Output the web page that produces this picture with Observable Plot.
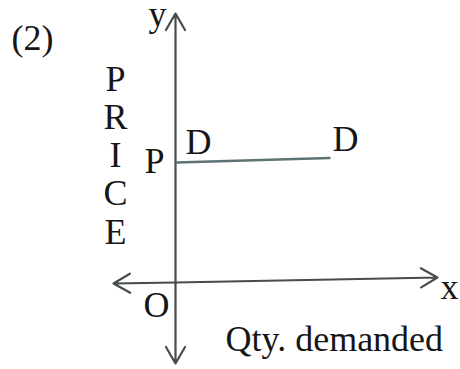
<!DOCTYPE html>
<html>
<head>
<meta charset="utf-8">
<script src="https://cdn.jsdelivr.net/npm/d3@7"></script>
<script src="https://cdn.jsdelivr.net/npm/@observablehq/plot@0.6"></script>
<style>
  html, body { margin: 0; padding: 0; background: #fff; }
</style>
</head>
<body>
<div id="chart"></div>
<script>
// Axis extents (quantity, price units; origin O at 0,0)
const yAxisEnds = [{y1: 0, y2: 270}, {y1: 0, y2: -80}];
const xAxisEnds = [{x1: 0, y1: 1, x2: 262, y2: 6}, {x1: 0, y1: 1, x2: -62, y2: 0}];

// Perfectly elastic demand curve DD at price level P
const demandQty = [1, 154];
const demandPrice = [121, 125.5];

// Labels
const labelText = ["(2)", "y", "P", "D", "D", "O", "x"];
const labelX = [-143, -18, -21, 23, 170, -19, 274];
const labelY = [234, 257.5, 111, 130, 133, -33, -15];
const axisTitleY = "PRICE";
const axisTitleYPos = {x: -60, y: 40};
const axisTitleX = "Qty. demanded";
const axisTitleXPos = {x: 50, y: -67};

const demand = demandQty.map((q, i) => ({q, p: demandPrice[i]}));
const labels = labelText.map((t, i) => ({t, x: labelX[i], y: labelY[i]}));

const font = "'Liberation Serif', 'Times New Roman', serif";
const ink = "#161616";
const axisColor = "#474c4c";

const chart = Plot.plot({
  width: 460,
  height: 369,
  margin: 0,
  x: {domain: [-175, 285], axis: null},
  y: {domain: [-86, 283], axis: null},
  style: {fontFamily: font, background: "#fff"},
  marks: [
    Plot.arrow(yAxisEnds, {x1: () => 0, x2: () => 0, y1: "y1", y2: "y2", stroke: axisColor, strokeWidth: 2.2, headLength: 13, headAngle: 60, bend: 0}),
    Plot.arrow(xAxisEnds, {x1: "x1", y1: "y1", x2: "x2", y2: "y2", stroke: axisColor, strokeWidth: 2.2, headLength: 13, headAngle: 60, bend: 0}),
    Plot.line(demand, {x: "q", y: "p", stroke: "#5e7373", strokeWidth: 2.4}),
    Plot.text(labels, {x: "x", y: "y", text: "t", fontSize: 36, fill: ink, textAnchor: "middle", lineAnchor: "bottom", fontFamily: font}),
    Plot.text([axisTitleY], {x: () => axisTitleYPos.x, y: () => axisTitleYPos.y, text: d => d.split("").join("\n"), fontSize: 36, lineHeight: 1.06, fill: ink, textAnchor: "middle", lineAnchor: "bottom", fontFamily: font}),
    Plot.text([axisTitleX], {x: () => axisTitleXPos.x, y: () => axisTitleXPos.y, text: d => d, fontSize: 36, fill: ink, textAnchor: "start", lineAnchor: "bottom", fontFamily: font})
  ]
});
document.getElementById("chart").appendChild(chart);
</script>
</body>
</html>
